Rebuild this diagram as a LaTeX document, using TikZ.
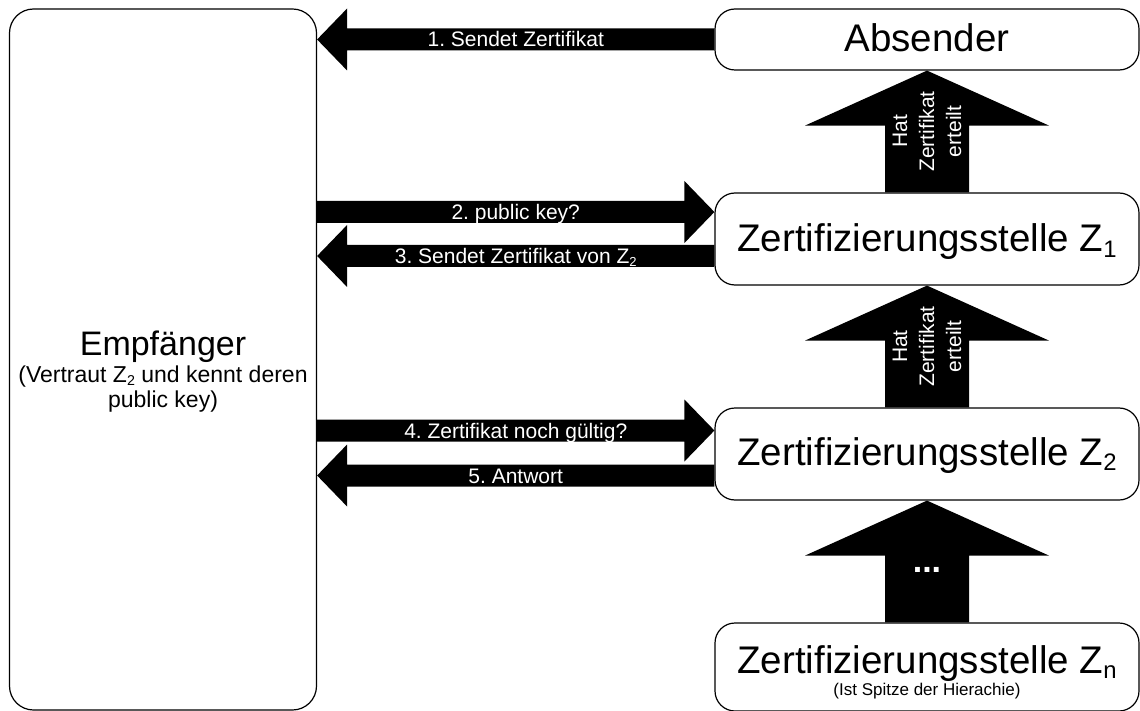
\documentclass[tikz,border=0pt]{standalone}
\usepackage{fontspec}
\setmainfont{Liberation Sans}
\usetikzlibrary{calc,backgrounds}
\frenchspacing

% Block arrow from #1 (tail) to #2 (tip): shaft half width #3,
% head half width #4, head length #5.
\newcommand\blockarrow[5]{%
  \fill let \p1=(#1), \p2=(#2),
      \n1={atan2(\y2-\y1,\x2-\x1)}, \n2={veclen(\x2-\x1,\y2-\y1)} in
    [shift={(\p1)}, rotate=\n1]
    (0pt,#3) -- ({\n2*1pt-#5},#3) -- ({\n2*1pt-#5},#4) -- ({\n2*1pt},0pt)
    -- ({\n2*1pt-#5},-#4) -- ({\n2*1pt-#5},-#3) -- (0pt,-#3) -- cycle;}

% small lowered index, scaled from the current font
\newcommand\idx[1]{\raisebox{-0.14em}{\scalebox{0.62}{#1}}}

\begin{document}
\begin{tikzpicture}[x=1pt,y=-1pt,
  box/.style={draw=black, line width=1.2pt, rounded corners=20pt, fill=white,
    inner sep=0pt},
  title/.style={font=\fontsize{38.5}{44}\selectfont, anchor=base, inner sep=0pt},
  arrowlabel/.style={text=white, font=\fontsize{21}{25}\selectfont,
    text height=15pt, text depth=0pt, inner sep=0pt},
  uplabel/.style={text=white, font=\fontsize{21}{27}\selectfont, rotate=90,
    align=center, inner sep=0pt}]
\useasboundingbox (0,0) rectangle (1140,711);

% participants
\node[box, rounded corners=24pt, minimum width=307pt, minimum height=701pt]
  (empf) at (163,359.5) {};
\node[box, minimum width=424pt, minimum height=61pt] (abs) at (927,39.5) {};
\node[box, minimum width=424pt, minimum height=92pt] (z1) at (927,239) {};
\node[box, minimum width=424pt, minimum height=92pt] (z2) at (927,454) {};
\node[box, minimum width=424pt, minimum height=88pt] (zn) at (927,667) {};

% texts of the participants
\node[font=\fontsize{34}{40}\selectfont, anchor=base, inner sep=0pt]
  (empfname) at ($(empf.center)+(0,-4.5)$) {Empfänger};
\node[font=\fontsize{23}{26}\selectfont, anchor=base, inner sep=0pt]
  (empfnote1) at ($(empf.center)+(0,23)$) {(Vertraut Z\idx{2} und kennt deren};
\node[font=\fontsize{23}{26}\selectfont, anchor=base, inner sep=0pt]
  (empfnote2) at ($(empf.center)+(0,47.5)$) {public key)};
\node[title] (absname) at ($(abs.center)+(0,12.5)$) {Absender};
\node[title] (z1name) at ($(z1.center)+(0,13)$) {Zertifizierungsstelle Z\idx{1}};
\node[title] (z2name) at ($(z2.center)+(0,11)$) {Zertifizierungsstelle Z\idx{2}};
\node[title] (znname) at ($(zn.center)+(0,6)$) {Zertifizierungsstelle Z\idx{n}};
\node[font=\fontsize{17}{20}\selectfont, anchor=base, inner sep=0pt]
  (znnote) at ($(zn.center)+(0,28)$) {(Ist Spitze der Hierachie)};

% ends of the horizontal arrows
\coordinate (a1l) at (abs.west -| empf.east);
\coordinate (a2r) at ($(z1.west)+(0,-27)$);
\coordinate (a2l) at (a2r -| empf.east);
\coordinate (a3r) at ($(z1.west)+(0,17)$);
\coordinate (a3l) at (a3r -| empf.east);
\coordinate (a4r) at ($(z2.west)+(0,-23.5)$);
\coordinate (a4l) at (a4r -| empf.east);
\coordinate (a5r) at ($(z2.west)+(0,21.5)$);
\coordinate (a5l) at (a5r -| empf.east);

\begin{scope}[on background layer]
  % messages between the parties
  \blockarrow{abs.west}{a1l}{11pt}{31pt}{30pt}
  \blockarrow{a2l}{a2r}{11pt}{31pt}{30pt}
  \blockarrow{a3r}{a3l}{11pt}{31pt}{30pt}
  \blockarrow{a4l}{a4r}{11pt}{31pt}{30pt}
  \blockarrow{a5r}{a5l}{11pt}{31pt}{30pt}
  % chain of certification
  \blockarrow{z1.north}{abs.south}{42pt}{122pt}{55pt}
  \blockarrow{z2.north}{z1.south}{42pt}{122pt}{55pt}
  \blockarrow{zn.north}{z2.south}{42pt}{122pt}{55pt}
\end{scope}

% labels on the arrows
\path (abs.west) -- (a1l) node[midway, arrowlabel] {1. Sendet Zertifikat};
\path (a2l) -- (a2r) node[midway, arrowlabel] {2. public key?};
\path (a3r) -- (a3l) node[midway, arrowlabel] {3. Sendet Zertifikat von Z\idx{2}};
\path (a4l) -- (a4r) node[midway, arrowlabel] {4. Zertifikat noch gültig?};
\path (a5r) -- (a5l) node[midway, arrowlabel] {5. Antwort};
\path (z1.north) -- (abs.south) node[midway, uplabel] {Hat\\Zertifikat\\erteilt};
\path (z2.north) -- (z1.south) node[midway, uplabel] {Hat\\Zertifikat\\erteilt};
\node[text=white, font=\bfseries\fontsize{34}{40}\selectfont, anchor=base, inner sep=0pt]
  (dots) at ($(zn.north)+(0,-50)$) {...};
\end{tikzpicture}
\end{document}
